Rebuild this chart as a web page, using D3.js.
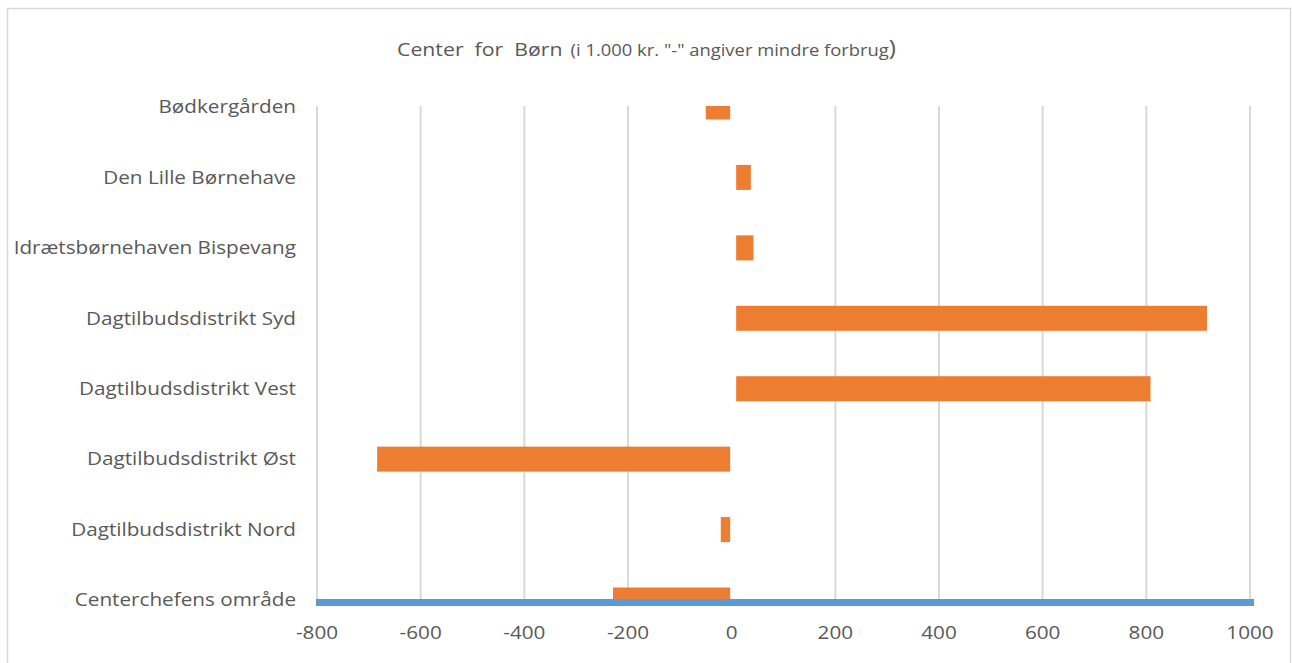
<!DOCTYPE html>
<html>
<head>
<meta charset="utf-8">
<script src="https://cdn.jsdelivr.net/npm/d3@7"></script>
<style>
  body { margin: 0; background: #fff; }
  text { font-family: "Open Sans", sans-serif; fill: #595959; }
</style>
</head>
<body>
<div id="chart"></div>
<script>
// data (i 1.000 kr.)
const categories = [
    "Bødkergården",
    "Den Lille Børnehave",
    "Idrætsbørnehaven Bispevang",
    "Dagtilbudsdistrikt Syd",
    "Dagtilbudsdistrikt Vest",
    "Dagtilbudsdistrikt Øst",
    "Dagtilbudsdistrikt Nord",
    "Centerchefens område"
];
const values = [-50, 37, 42, 917, 808, -684, -21, -229];
const xTicks = [-800, -600, -400, -200, 0, 200, 400, 600, 800, 1000];

const width = 1292, height = 663;
const plotL = 317, plotR = 1250, plotT = 106, plotB = 600;
const stretch = 1.15; // the original text is wider than Open Sans

const svg = d3.select("#chart").append("svg")
    .attr("width", width)
    .attr("height", height);

// chart border
svg.append("rect")
    .attr("x", 7.5).attr("y", 8.5)
    .attr("width", 1283).attr("height", 670)
    .attr("fill", "none")
    .attr("stroke", "#d9d9d9")
    .attr("stroke-width", 1.5);

const x = d3.scaleLinear().domain([-800, 1000]).range([plotL, plotR]);
const y = d3.scalePoint().domain(categories).range([107, 600]);

// title
const title = svg.append("text")
    .attr("transform", `translate(397,56) scale(${stretch},1)`)
    .style("white-space", "pre");
title.append("tspan").attr("font-size", 18.5).text("Center  for  Børn");
title.append("tspan").attr("font-size", 16).attr("dx", 7).text("(i 1.000 kr. \"-\" angiver mindre forbrug");
title.append("tspan").attr("font-size", 21).text(")");

// gridlines
svg.append("g")
    .selectAll("line")
    .data(xTicks.filter(d => d !== 0))
    .join("line")
    .attr("x1", d => x(d)).attr("x2", d => x(d))
    .attr("y1", plotT).attr("y2", plotB)
    .attr("stroke", "#d9d9d9")
    .attr("stroke-width", 2);

svg.append("clipPath").attr("id", "plot")
    .append("rect")
    .attr("x", plotL - 5).attr("y", plotT)
    .attr("width", plotR - plotL + 10).attr("height", plotB - plotT);

const barH = 25;
svg.append("g")
    .attr("clip-path", "url(#plot)")
    .selectAll("rect")
    .data(values)
    .join("rect")
    .attr("x", d => x(Math.min(0, d)))
    .attr("y", (d, i) => y(categories[i]) - barH / 2)
    .attr("width", d => Math.abs(x(d) - x(0)))
    .attr("height", barH)
    .attr("fill", "#ed7d31");

// white gap at zero like the original
svg.append("rect")
    .attr("x", x(0) - 1.5).attr("y", plotT)
    .attr("width", 6).attr("height", plotB - plotT + 1)
    .attr("fill", "#fff");

// blue baseline
svg.append("line")
    .attr("x1", x(-800) - 1).attr("x2", x(1000) + 4)
    .attr("y1", 602.5).attr("y2", 602.5)
    .attr("stroke", "#5b9bd5")
    .attr("stroke-width", 7);

// category labels
svg.append("g")
    .selectAll("text")
    .data(categories)
    .join("text")
    .attr("transform", d => `translate(296,${y(d)}) scale(${stretch},1)`)
    .attr("dy", "0.35em")
    .attr("text-anchor", "end")
    .attr("font-size", 18)
    .text(d => d);

// x tick labels
svg.append("g")
    .selectAll("text")
    .data(xTicks)
    .join("text")
    .attr("transform", d => `translate(${x(d)},633) scale(${stretch},1)`)
    .attr("dy", "0.35em")
    .attr("text-anchor", "middle")
    .attr("font-size", 18)
    .text(d => d);
</script>
</body>
</html>
